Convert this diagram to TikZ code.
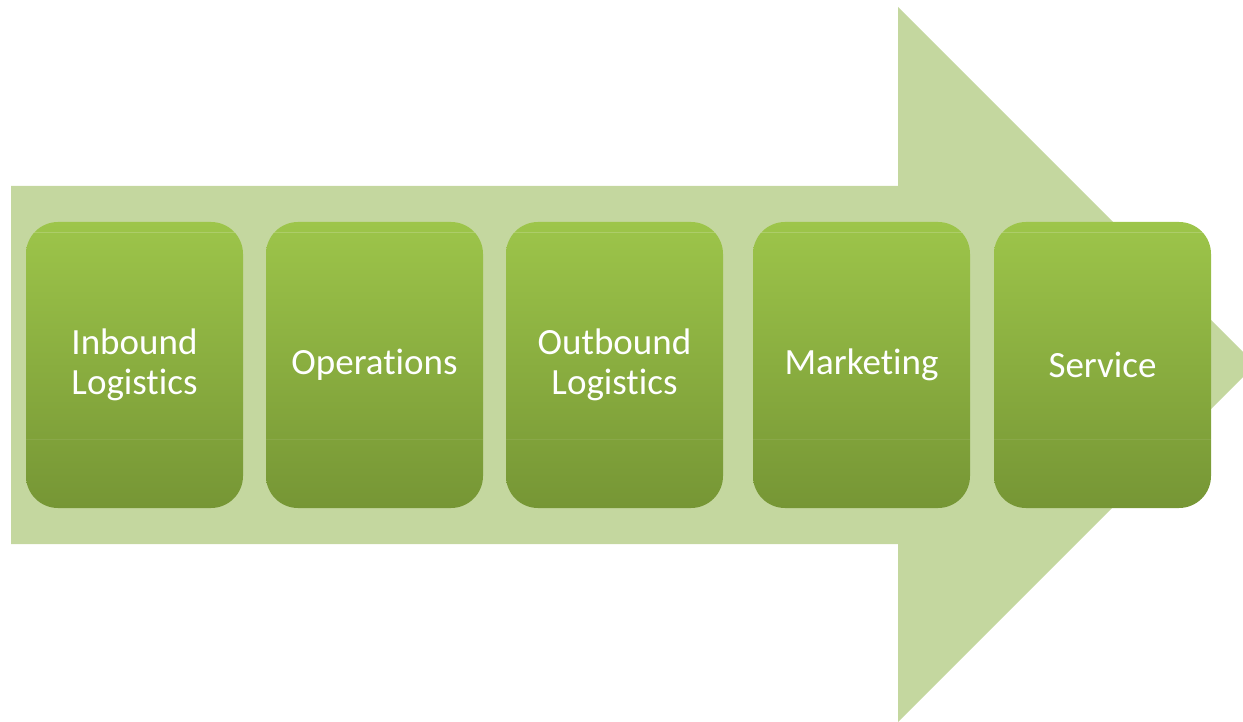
\documentclass[tikz,border=0pt]{standalone}
\usepackage{fontspec}
\setmainfont[Ligatures={NoCommon,NoRare}]{Carlito}
\definecolor{arrowgreen}{RGB}{196,215,159}
\definecolor{boxtop}{RGB}{157,197,74}
\definecolor{boxbottom}{RGB}{118,150,53}
\begin{document}
\begin{tikzpicture}[x=1pt,y=-1pt,
  stagebox/.style={rounded corners=32pt, minimum width=217pt, minimum height=286pt,
    inner sep=0pt, top color=boxtop, bottom color=boxbottom, draw=none,
    text=white, align=center, font=\fontsize{37}{40}\selectfont},
  sheen/.style={white, opacity=0.18, line width=1pt}]
\useasboundingbox (0,0) rectangle (1243,722);
\clip (0,0) rectangle (1243,722);
% the large block arrow behind the stages
\fill[arrowgreen] (11,186) -- (898,186) -- (898,7) -- (1255.5,364.5)
  -- (898,722) -- (898,544) -- (11,544) -- cycle;
% the five stages of the chain
\node[stagebox] (inb) at (134.5,365) {Inbound\\Logistics};
\node[stagebox] (ops) at (374.5,365) {Operations};
\node[stagebox] (outb) at (614.5,365) {Outbound\\Logistics};
\node[stagebox] (mkt) at (861.5,365) {Marketing};
\node[stagebox] (srv) at (1102.5,365) {Service};
% faint highlight bands across each stage
\foreach \b in {inb,ops,outb,mkt,srv}{
  \draw[sheen] ([xshift=8pt,yshift=-11pt]\b.north west) -- ([xshift=-8pt,yshift=-11pt]\b.north east);
  \draw[sheen, opacity=0.08] ([yshift=69pt]\b.south west) -- ([yshift=69pt]\b.south east);
}
\end{tikzpicture}
\end{document}
